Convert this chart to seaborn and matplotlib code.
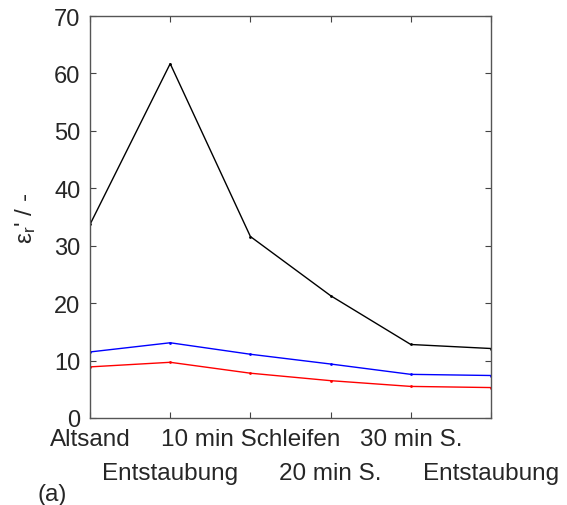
import matplotlib
matplotlib.use("Agg")
import matplotlib.pyplot as plt
import matplotlib.transforms as mtransforms
import seaborn as sns
import pandas as pd

categories = ["Altsand", "Entstaubung", "10 min Schleifen", "20 min S.", "30 min S.", "Entstaubung "]
tick_labels = ["Altsand", "Entstaubung", "10 min Schleifen", "20 min S.", "30 min S.", "Entstaubung"]
series_black = [33.7, 61.7, 31.6, 21.3, 12.8, 12.1]
series_blue = [11.5, 13.1, 11.1, 9.4, 7.6, 7.4]
series_red = [8.9, 9.7, 7.8, 6.5, 5.5, 5.3]

sns.set_style("white")
plt.rcParams["font.family"] = ["Liberation Sans", "DejaVu Sans"]
plt.rcParams["mathtext.fontset"] = "custom"
plt.rcParams["mathtext.rm"] = "Liberation Sans"
plt.rcParams["mathtext.it"] = "Liberation Sans:italic"

FS = 17.5

rows = []
for name, vals in [("black", series_black), ("blue", series_blue), ("red", series_red)]:
    for i, v in enumerate(vals):
        rows.append({"x": i, "y": v, "series": name})
df = pd.DataFrame(rows)

fig = plt.figure(figsize=(5.67, 5.06), dpi=100)
ax = fig.add_axes([90/567, 1-419/506, (491-90)/567, (419-17)/506])
sns.lineplot(data=df, x="x", y="y", hue="series",
             palette={"black": "#000000", "blue": "#0000ff", "red": "#ff0000"},
             linewidth=1.0, marker="o", markersize=2.0, markeredgewidth=0,
             legend=False, ax=ax)

ax.set_xlim(0, len(categories) - 1)
ax.set_ylim(0, 70)
ax.set_yticks(range(0, 71, 10))
ax.set_xticks(range(len(categories)))
ax.set_xticklabels(tick_labels, fontsize=FS)
ax.tick_params(axis="y", labelsize=17, pad=7)
ax.tick_params(axis="x", pad=7.5)
ax.tick_params(direction="in", length=4, width=0.8, color="#444444",
               top=True, right=True, bottom=True, left=True)
for s in ax.spines.values():
    s.set_color("#555555")
    s.set_linewidth(1.0)
    s.set_visible(True)
ax.set_xlabel("")
ax.set_ylabel("ε$_\\mathrm{r}$' / -", fontsize=FS)
ax.yaxis.set_label_coords(-0.13, 0.5)

# alternate rows: every second label goes on a lower line
for i, lab in enumerate(ax.get_xticklabels()):
    if i % 2 == 1:
        lab.set_transform(lab.get_transform() + mtransforms.ScaledTranslation(0, -0.34, fig.dpi_scale_trans))

fig.text(52/567, 1-495/506, "(a)", fontsize=FS, ha="center", va="center")

fig.savefig("out.png", dpi=100)
